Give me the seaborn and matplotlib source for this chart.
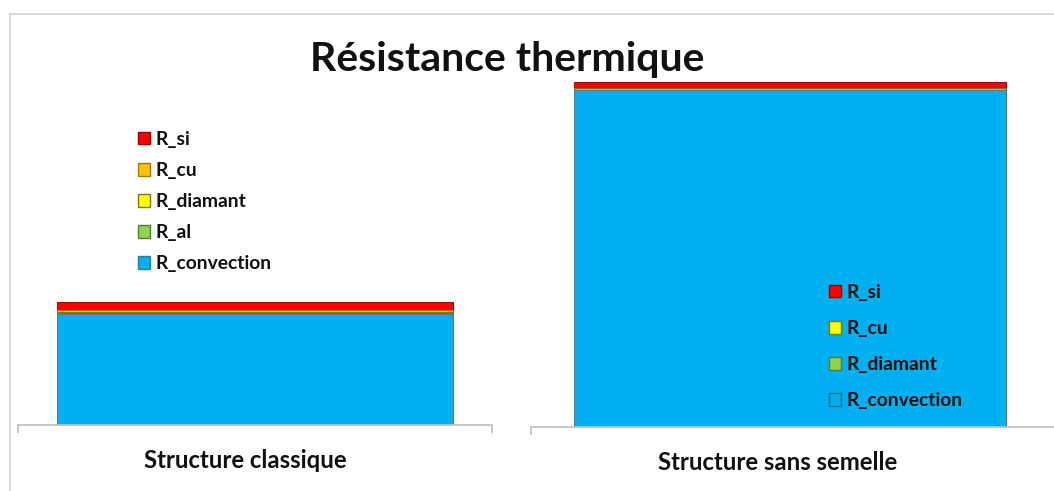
import numpy as np
import pandas as pd
import matplotlib
matplotlib.use("Agg")
import matplotlib.pyplot as plt
import matplotlib.transforms as mtransforms
from matplotlib.patches import Patch
from matplotlib.lines import Line2D
import seaborn as sns

# ---- data -------------------------------------------------------------
title = "Résistance thermique"

classique_label = "Structure classique"
classique_components = ["R_convection", "R_al", "R_diamant", "R_cu", "R_si"]
classique_values = [0.895, 0.012, 0.008, 0.012, 0.065]
classique_colors = ["#00B0F0", "#92D050", "#FFFF00", "#FFC000", "#FF0000"]
classique_edges = ["#2A7FA0", "#4E7F2A", "#7A7A00", "#A87A00", "#A00000"]

semelle_label = "Structure sans semelle"
semelle_components = ["R_convection", "R_diamant", "R_cu", "R_si"]
semelle_values = [2.720, 0.012, 0.004, 0.050]
semelle_colors = ["#00B0F0", "#92D050", "#FFFF00", "#FF0000"]
semelle_edges = ["#2A6F8F", "#4E7F2A", "#7A7A00", "#A00000"]

# ---- style ------------------------------------------------------------
sns.set_theme(style="white")
plt.rcParams["font.family"] = ["Lato", "DejaVu Sans"]

W, H, DPI = 1054, 491, 100
fig = plt.figure(figsize=(W / DPI, H / DPI), dpi=DPI)
fig.patch.set_facecolor("white")

PX_PER_UNIT = 124.0   # common vertical scale for both panels
AXIS_GREY = "#BFBFBF"
BAR_OUTLINE = "#707070"
LABEL_SIZE = 17.2
LEGEND_SIZE = 13.9


def px_axes(x0, x1, y_top, y_base):
    return fig.add_axes([x0 / W, 1 - y_base / H, (x1 - x0) / W, (y_base - y_top) / H])


def draw_panel(ax, category, components, values, colors, edges, height_px, xlim,
               minor_ticks, label_shift_px):
    tops = np.cumsum(values)
    df = pd.DataFrame({"structure": [category] * len(components),
                       "composant": components,
                       "cumul": tops})
    # stacked bar: draw cumulative heights from the tallest down
    for i in range(len(components) - 1, -1, -1):
        outline = BAR_OUTLINE if i == 0 else edges[i]
        sns.barplot(data=df.iloc[[i]], x="structure", y="cumul",
                    color=colors[i], saturation=1, width=0.834,
                    errorbar=None, edgecolor=outline, linewidth=0.7, ax=ax)
    ax.set_xlim(*xlim)
    ax.set_ylim(0, height_px / PX_PER_UNIT)
    ax.set_facecolor("none")
    sns.despine(ax=ax, left=True, top=True, right=True)
    ax.spines["bottom"].set_color(AXIS_GREY)
    ax.spines["bottom"].set_linewidth(1.2)
    ax.set_yticks([])
    ax.set_xlabel("")
    ax.set_ylabel("")
    ax.set_xticks([0])
    ax.set_xticklabels([category], fontsize=LABEL_SIZE, fontweight="bold", color="#111111")
    ax.tick_params(axis="x", which="major", length=0, pad=17.5)
    ax.set_xticks(minor_ticks, minor=True)
    ax.tick_params(axis="x", which="minor", length=6, width=1.2, color=AXIS_GREY,
                   direction="out", bottom=True)
    shift = mtransforms.ScaledTranslation(label_shift_px / DPI, 0, fig.dpi_scale_trans)
    for lab in ax.get_xticklabels():
        lab.set_transform(lab.get_transform() + shift)


ax_l = px_axes(18, 492, 20, 425)
draw_panel(ax_l, classique_label, classique_components, classique_values,
           classique_colors, classique_edges, 405, (-0.5, 0.5), [-0.5, 0.5], -10)

ax_r = px_axes(531, 1054, 20, 427)
draw_panel(ax_r, semelle_label, semelle_components, semelle_values,
           semelle_colors, semelle_edges, 407, (-0.5, 0.51), [-0.5], -12)

# ---- legends ----------------------------------------------------------
def make_legend(ax, components, colors, edges, anchor_px, spacing, open_last=False):
    handles = []
    for j in range(len(components) - 1, -1, -1):
        face = colors[j]
        if open_last and j == 0:
            face = "none"
        handles.append(Patch(facecolor=face, edgecolor=edges[j], linewidth=1.0,
                             label=components[j]))
    leg = ax.legend(handles=handles, loc="upper left",
                    bbox_to_anchor=(anchor_px[0] / W, 1 - anchor_px[1] / H),
                    bbox_transform=fig.transFigure, frameon=False,
                    prop={"family": ["Lato", "DejaVu Sans"], "weight": "bold",
                          "size": LEGEND_SIZE},
                    handlelength=0.62, handleheight=0.62, handletextpad=0.3,
                    labelspacing=spacing, borderpad=0, borderaxespad=0)
    for t in leg.get_texts():
        t.set_color("#111111")
    return leg


make_legend(ax_l, classique_components, classique_colors, classique_edges,
            (138, 131), 0.73)
make_legend(ax_r, semelle_components, semelle_colors, semelle_edges,
            (829, 284), 0.99, open_last=True)

# ---- outer frame and title -------------------------------------------
fig.add_artist(Line2D([9.5 / W, 9.5 / W], [0, 1 - 14 / H], transform=fig.transFigure,
                      color="#D4D4D4", lw=1.3))
fig.add_artist(Line2D([9.5 / W, 1], [1 - 14 / H, 1 - 14 / H], transform=fig.transFigure,
                      color="#D4D4D4", lw=1.3))

fig.text(507 / W, 1 - 71 / H, title, ha="center", va="baseline",
         fontsize=29.5, fontweight="bold", color="#111111")

fig.savefig("out.png", dpi=DPI, facecolor="white")
